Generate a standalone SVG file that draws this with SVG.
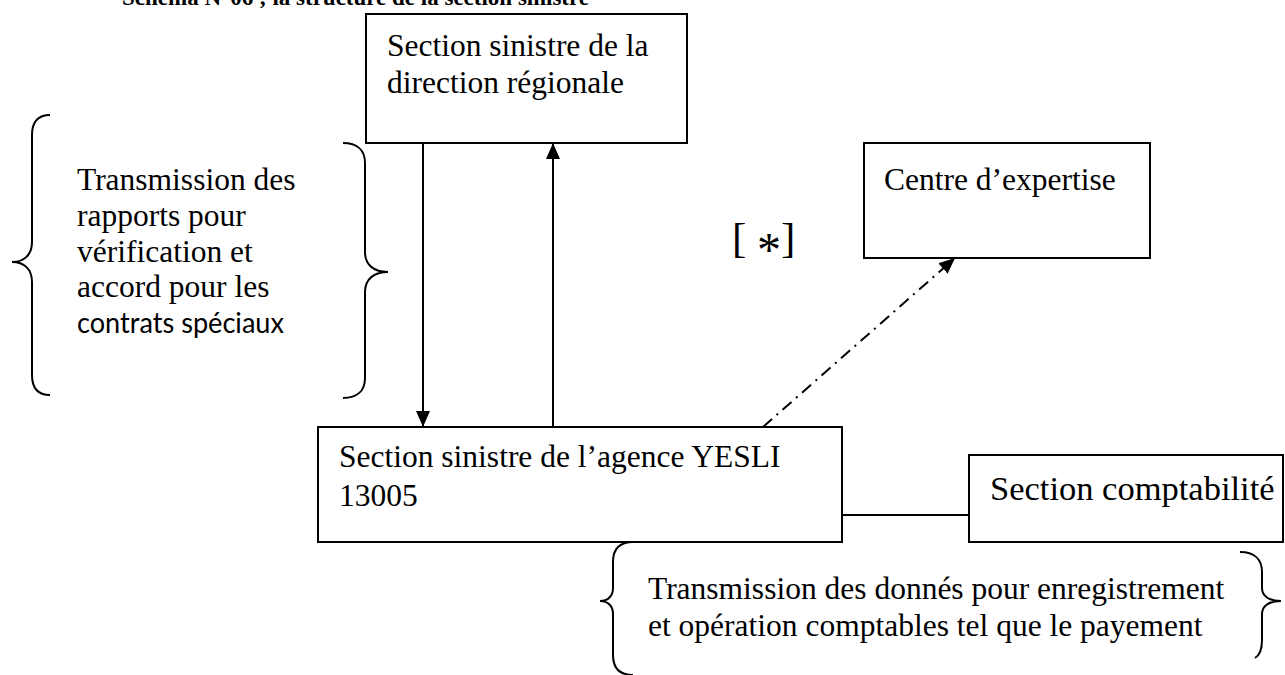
<svg xmlns="http://www.w3.org/2000/svg" width="1285" height="675" viewBox="0 0 1285 675">
<defs>
<marker id="arr" viewBox="0 0 16 14" refX="16" refY="7" markerWidth="16" markerHeight="14" orient="auto" markerUnits="userSpaceOnUse"><path d="M0,0 L16,7 L0,14 z" fill="#000"/></marker>
</defs>
<style>
.box{fill:#fff;stroke:#000;stroke-width:2}
.t{font-family:"Liberation Serif","Times New Roman",serif;font-size:31.5px;fill:#000}
.brace{fill:none;stroke:#000;stroke-width:2}
.ln{fill:none;stroke:#000;stroke-width:2}
</style>
<rect width="1285" height="675" fill="#fff"/>
<text id="title" x="122" y="5" style="font-family:'Liberation Serif',serif;font-weight:bold;font-size:23px">Schéma N°06 ; la structure de la section sinistre</text>

<g id="connectors">
<line class="ln" x1="423" y1="143" x2="423" y2="427" marker-end="url(#arr)"/>
<line class="ln" x1="553" y1="427" x2="553" y2="143" marker-end="url(#arr)"/>
<line class="ln" x1="763" y1="427" x2="955" y2="258" stroke-dasharray="12,6,2,6" marker-end="url(#arr)"/>
<line class="ln" x1="842" y1="515" x2="969" y2="515"/>
</g>

<g id="direction-regionale">
<rect class="box" x="366" y="14" width="321" height="129"/>
<text class="t" x="387" y="56">Section sinistre de la</text>
<text class="t" x="387" y="93">direction régionale</text>
</g>

<g id="agence">
<rect class="box" x="318" y="427" width="524" height="115"/>
<text class="t" x="339" y="467">Section sinistre de l’agence YESLI</text>
<text class="t" x="339" y="506">13005</text>
</g>

<g id="centre-expertise">
<rect class="box" x="864" y="143" width="286" height="115"/>
<text class="t" x="884" y="190">Centre d’expertise</text>
</g>

<g id="comptabilite">
<rect class="box" x="969" y="455" width="314" height="87"/>
<text class="t" x="990" y="500" style="font-size:34.5px">Section comptabilité</text>
</g>

<g id="note-star">
<text class="t" x="732" y="252" style="font-size:43px">[ <tspan dy="14" style="font-size:48px">*</tspan><tspan dy="-14">]</tspan></text>
</g>

<g id="note-rapports">
<path class="brace" d="M50,115 C38,115 32,122 32,135 L32,242 C32,255 24,262 12,262 C24,262 32,269 32,282 L32,375 C32,388 38,395 50,395"/>
<path class="brace" d="M343,143 C357,143 365,150 365,163 L365,252 C365,265 374,272 388,272 C374,272 365,279 365,292 L365,378 C365,391 357,398 343,398"/>
<text class="t" x="77" y="190">Transmission des</text>
<text class="t" x="77" y="226">rapports pour</text>
<text class="t" x="77" y="262">vérification et</text>
<text class="t" x="77" y="297">accord pour les</text>
<text x="77" y="333" style="font-family:Lato,'Liberation Sans',sans-serif;font-size:28px" textLength="207" lengthAdjust="spacingAndGlyphs">contrats spéciaux</text>
</g>

<g id="note-donnees">
<path class="brace" d="M633,542 C620,542 613,549 613,562 L613,588 C613,596 608,601 600,601 C608,601 613,606 613,614 L613,655 C613,668 620,675 633,675"/>
<path class="brace" d="M1240,552 C1254,552 1262,559 1262,572 L1262,588 C1262,596 1269,601 1281,601 C1269,601 1262,606 1262,614 L1262,640 C1262,650 1260,655 1255,658"/>
<text class="t" x="648" y="599">Transmission des donnés pour enregistrement</text>
<text class="t" x="648" y="636">et opération comptables tel que le payement</text>
</g>
</svg>
